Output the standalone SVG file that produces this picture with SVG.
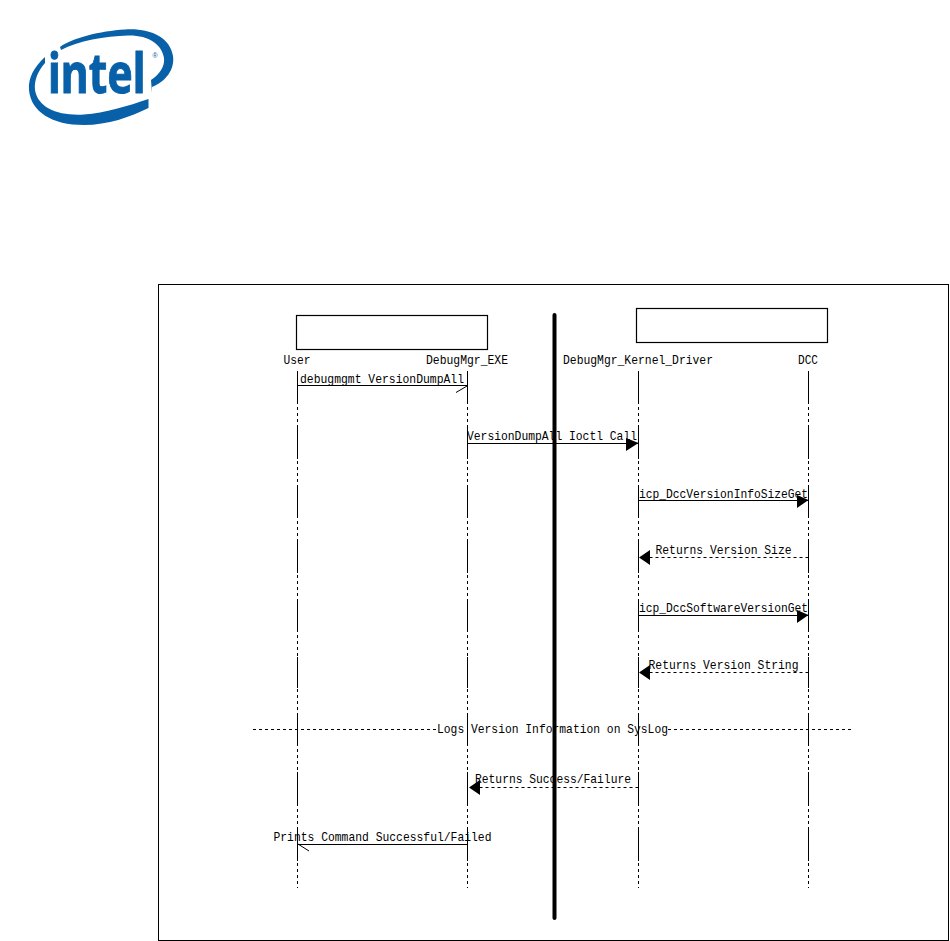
<svg xmlns="http://www.w3.org/2000/svg" width="950" height="941" viewBox="0 0 950 941">
<style>
text{font-family:"Liberation Mono","DejaVu Sans Mono",monospace;font-size:13.2px;fill:#000;text-anchor:middle}
.box{fill:#fff;stroke:#000;stroke-width:1.2}
.life,.msg,.ret,.div{stroke:#000;stroke-width:1;fill:none}
.life.dot,.ret,.div{stroke-dasharray:3 3}
.head{fill:#000;stroke:none}
.open{fill:none;stroke:#000;stroke-width:1}
.logo{fill:#0860a8}
</style>
<rect width="950" height="941" fill="#fff"/>
<g id="intel-logo">
<path class="logo" d="M60 47C72 38 100 31 125 29.500C150 28 170 37 173 56C175 70 165 82 152 87L152 93L151 80C160 74 165 66 164 58C162 44 148 35 128 35.500C105 36 78 41 61 50Z"/>
<path class="logo" d="M45 57C34 67 28 78 29 90C31 112 52 125 84 125C108 125 130 117 148.500 108L148.500 99C128 106 105 113 84 114.500C58 116 38 108 35 90C34 80 38 71 45 63Z"/>
<text transform="translate(48 93) scale(0.765 1)" style="font-family:'Noto Sans',sans-serif;font-weight:700;font-size:56px;fill:#0860a8;stroke:#0860a8;stroke-width:1;text-anchor:start">intel</text>
<text x="155" y="58" style="font-family:'Liberation Sans',sans-serif;font-size:7px;fill:#0860a8">®</text>
</g>
<rect id="frame" x="158.500" y="284.500" width="790" height="656" fill="none" stroke="#000" stroke-width="1"/>
<g id="group-box-left"><rect class="box" x="296.500" y="315.500" width="191" height="34"/></g>
<g id="group-box-right"><rect class="box" x="636.500" y="308.500" width="191" height="34"/></g>
<g id="node-user">
<text x="297" y="364" textLength="27" lengthAdjust="spacingAndGlyphs">User</text>
<path class="life dot" d="M297.500 371V888"/>
<path class="life" d="M297.500 371V402M297.500 428V459M297.500 485V516M297.500 542V573M297.500 600V631M297.500 657V688M297.500 714V745M297.500 772V803M297.500 830V861"/>
</g>
<g id="node-exe">
<text x="467" y="364" textLength="82" lengthAdjust="spacingAndGlyphs">DebugMgr_EXE</text>
<path class="life dot" d="M467.500 371V888"/>
<path class="life" d="M467.500 371V402M467.500 428V459M467.500 485V516M467.500 542V573M467.500 600V631M467.500 657V688M467.500 714V745M467.500 772V803M467.500 830V861"/>
</g>
<g id="node-driver">
<text x="638" y="364" textLength="150" lengthAdjust="spacingAndGlyphs">DebugMgr_Kernel_Driver</text>
<path class="life dot" d="M638.500 371V888"/>
<path class="life" d="M638.500 371V402M638.500 428V459M638.500 485V516M638.500 542V573M638.500 600V631M638.500 657V688M638.500 714V745M638.500 772V803M638.500 830V861"/>
</g>
<g id="node-dcc">
<text x="808" y="364" textLength="20" lengthAdjust="spacingAndGlyphs">DCC</text>
<path class="life dot" d="M808.500 371V888"/>
<path class="life" d="M808.500 371V402M808.500 428V459M808.500 485V516M808.500 542V573M808.500 600V631M808.500 657V688M808.500 714V745M808.500 772V803M808.500 830V861"/>
</g>
<g id="connectors">
<path class="msg" d="M297.500 385.500H467.500"/><path class="open" d="M467 386L456 392.500"/>
<path class="msg" d="M467.500 443.500H638.500"/><path class="head" d="M626 438L638.500 443L626 451Z"/>
<path class="msg" d="M638.500 500.500H808.500"/><path class="head" d="M797 495L808.500 500L797 508Z"/>
<path class="ret" d="M808.500 557.500H650"/><path class="head" d="M650 550L639 557.500L650 565Z"/>
<path class="msg" d="M638.500 615.500H808.500"/><path class="head" d="M797 610L808.500 615L797 623Z"/>
<path class="ret" d="M808.500 672.500H650"/><path class="head" d="M650 665L639 672.500L650 680Z"/>
<path class="div" d="M253 729.500H437M668 729.500H851"/>
<path class="ret" d="M638.500 787.500H480"/><path class="head" d="M480 780L469 787.500L480 795Z"/>
<path class="msg" d="M467.500 844.500H297.500"/><path class="open" d="M298 844L309 851"/>
</g>
<g id="labels">
<text x="382" y="383" textLength="164" lengthAdjust="spacingAndGlyphs">debugmgmt VersionDumpAll</text>
<text x="552" y="440" textLength="170" lengthAdjust="spacingAndGlyphs">VersionDumpAll Ioctl Call</text>
<text x="723.500" y="498" textLength="169" lengthAdjust="spacingAndGlyphs">icp_DccVersionInfoSizeGet</text>
<text x="723.500" y="554" textLength="136" lengthAdjust="spacingAndGlyphs">Returns Version Size</text>
<text x="723.500" y="612" textLength="169" lengthAdjust="spacingAndGlyphs">icp_DccSoftwareVersionGet</text>
<text x="723.500" y="669" textLength="150" lengthAdjust="spacingAndGlyphs">Returns Version String</text>
<text x="552.500" y="733" textLength="231" lengthAdjust="spacingAndGlyphs">Logs Version Information on SysLog</text>
<text x="553" y="783" textLength="156" lengthAdjust="spacingAndGlyphs">Returns Success/Failure</text>
<text x="382.500" y="841" textLength="218" lengthAdjust="spacingAndGlyphs">Prints Command Successful/Failed</text>
</g>
<path id="boundary" d="M554.500 315V918" stroke="#000" stroke-width="4" stroke-linecap="round" fill="none"/>
</svg>
